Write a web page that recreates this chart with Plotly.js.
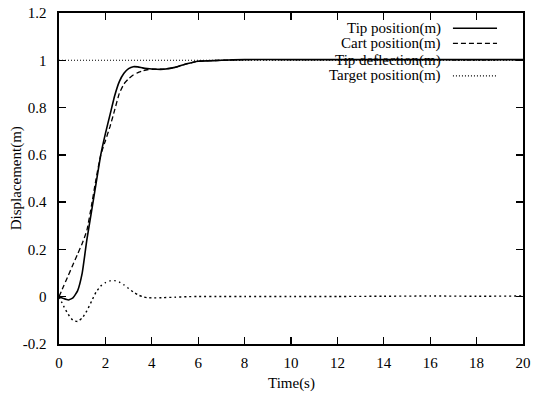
<!DOCTYPE html>
<html>
<head>
<meta charset="utf-8">
<script src="https://cdn.plot.ly/plotly-3.0.1.min.js"></script>
<style>html,body{margin:0;padding:0;background:#fff;}#chart{width:534px;height:394px;}</style>
</head>
<body>
<div id="chart"></div>
<script>
const time = [0,0.2,0.4,0.6,0.8,1.0,1.2,1.4,1.6,1.8,2.0,2.2,2.4,2.6,2.8,3.0,3.2,3.4,3.6,3.8,4.0,4.5,5.0,5.5,6.0,7,8,10,12,14,16,18,20];
const tipPosition = [0,-0.008,-0.014,-0.005,0.025,0.1,0.24,0.36,0.48,0.6,0.69,0.77,0.85,0.91,0.945,0.965,0.973,0.972,0.968,0.965,0.963,0.962,0.97,0.985,0.996,1.0,1.003,1.003,1.003,1.003,1.003,1.003,1.003];
const cartPosition = [0,0.045,0.09,0.135,0.18,0.225,0.28,0.385,0.5,0.6,0.66,0.72,0.79,0.86,0.9,0.922,0.938,0.948,0.955,0.96,0.962,0.963,0.97,0.985,0.996,1.0,1.003,1.003,1.003,1.003,1.003,1.003,1.003];
const tipDeflection = [0,-0.04,-0.075,-0.1,-0.105,-0.09,-0.06,-0.02,0.02,0.045,0.06,0.067,0.068,0.062,0.05,0.035,0.02,0.008,0.0,-0.004,-0.005,-0.004,-0.002,0,0.001,0.001,0.001,0.001,0.001,0.002,0.003,0.002,0.003];
const targetTime = [0,20];
const targetPosition = [1,1];
const seriesNames = ["Tip position(m)","Cart position(m)","Tip deflection(m)","Target position(m)"];
const yTickVals = [-0.2,0,0.2,0.4,0.6,0.8,1,1.2];
const yTickText = ["-0.2","0","0.2","0.4","0.6","0.8","1","1.2"];
const xTickVals = [0,2,4,6,8,10,12,14,16,18,20];

const dashes = ["solid","5px,3px","2px,3px","1px,2px"];
const widths = [1.6,1.3,1.4,1.1];
const ys = [tipPosition,cartPosition,tipDeflection,targetPosition];
const xs = [time,time,time,targetTime];

const traces = [3,2,1,0].map(i => ({
  x: xs[i], y: ys[i], type: 'scatter', mode: 'lines', name: seriesNames[i],
  line: {color: '#000', width: widths[i], dash: dashes[i], shape: 'spline', smoothing: 0.4},
  showlegend: false, hoverinfo: 'skip'
}));

const font = {family: '"Liberation Serif", "Times New Roman", serif', size: 15, color: '#000'};
const legendY = [0.954,0.908,0.858,0.810];
const annotations = seriesNames.map((n,i) => ({
  xref: 'paper', yref: 'paper', x: 0.828, y: legendY[i], xanchor: 'right', yanchor: 'middle',
  text: n, showarrow: false, font: font
}));
annotations.push({xref:'paper', yref:'paper', x:0.5, y:-0.118, xanchor:'center', yanchor:'middle', text:'Time(s)', showarrow:false, font:font});
annotations.push({xref:'paper', yref:'paper', x:-0.091, y:0.5, xanchor:'center', yanchor:'middle', text:'Displacement(m)', textangle:-90, showarrow:false, font:font});

const shapes = seriesNames.map((n,i) => ({
  type: 'line', xref: 'paper', yref: 'paper', x0: 0.849, x1: 0.944, y0: legendY[i], y1: legendY[i],
  line: {color: '#000', width: widths[i], dash: dashes[i]}
}));

const layout = {
  width: 534, height: 394,
  margin: {l: 59, r: 11, t: 13, b: 50},
  paper_bgcolor: '#fff', plot_bgcolor: '#fff',
  font: font,
  showlegend: false,
  xaxis: {range: [0,20], tickvals: xTickVals, ticks: 'inside', ticklen: 7, tickwidth: 1.3, tickcolor: '#000',
          showline: true, linecolor: '#000', linewidth: 1.6, mirror: 'allticks', showgrid: false, zeroline: false,
          tickfont: font, automargin: false, ticklabelstandoff: 4},
  yaxis: {range: [-0.2,1.2], tickvals: yTickVals, ticktext: yTickText, ticks: 'inside', ticklen: 7, tickwidth: 1.3, tickcolor: '#000',
          showline: true, linecolor: '#000', linewidth: 1.6, mirror: 'allticks', showgrid: false, zeroline: false,
          tickfont: font, automargin: false, ticklabelstandoff: 8},
  annotations: annotations,
  shapes: shapes
};
Plotly.newPlot('chart', traces, layout, {staticPlot: true, displayModeBar: false});
</script>
</body>
</html>
